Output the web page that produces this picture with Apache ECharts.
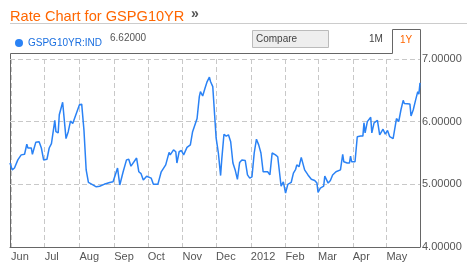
<!DOCTYPE html>
<html>
<head>
<meta charset="utf-8">
<script src="https://cdn.jsdelivr.net/npm/echarts@6/dist/echarts.min.js"></script>
<style>
html,body{margin:0;padding:0;background:#fff;}
#chart{width:467px;height:266px;}
</style>
</head>
<body>
<div id="chart"></div>
<script>
// ---- data ----
var seriesName = 'GSPG10YR:IND';
var lastValue = '6.62000';
var dates = [
'2011-05-31','2011-06-02','2011-06-04','2011-06-07','2011-06-10','2011-06-13','2011-06-14','2011-06-15','2011-06-16','2011-06-19',
'2011-06-20','2011-06-23','2011-06-26','2011-06-28','2011-06-30','2011-07-03','2011-07-05','2011-07-07','2011-07-10','2011-07-11',
'2011-07-13','2011-07-14','2011-07-17','2011-07-20','2011-07-22','2011-07-24','2011-07-26','2011-07-28','2011-08-01','2011-08-03',
'2011-08-05','2011-08-07','2011-08-09','2011-08-13','2011-08-16','2011-08-19','2011-08-23','2011-08-28','2011-08-31','2011-09-04',
'2011-09-06','2011-09-09','2011-09-12','2011-09-14','2011-09-16','2011-09-21','2011-09-23','2011-09-25','2011-09-27','2011-09-30',
'2011-10-04','2011-10-06','2011-10-10','2011-10-13','2011-10-17','2011-10-20','2011-10-21','2011-10-24','2011-10-26','2011-10-27',
'2011-10-29','2011-10-31','2011-11-02','2011-11-05','2011-11-08','2011-11-10','2011-11-11','2011-11-14','2011-11-16','2011-11-17',
'2011-11-19','2011-11-21','2011-11-23','2011-11-25','2011-11-26','2011-11-28','2011-12-01','2011-12-02','2011-12-03','2011-12-05',
'2011-12-06','2011-12-08','2011-12-10','2011-12-12','2011-12-14','2011-12-16','2011-12-18','2011-12-20','2011-12-22','2011-12-24',
'2011-12-27','2011-12-29','2011-12-31','2012-01-02','2012-01-04','2012-01-06','2012-01-08','2012-01-10','2012-01-12','2012-01-13',
'2012-01-16','2012-01-18','2012-01-20','2012-01-23','2012-01-25','2012-01-28','2012-01-30','2012-02-01','2012-02-03','2012-02-06',
'2012-02-08','2012-02-10','2012-02-11','2012-02-13','2012-02-15','2012-02-18','2012-02-21','2012-02-24','2012-02-27','2012-02-28',
'2012-02-29','2012-03-01','2012-03-03','2012-03-06','2012-03-07','2012-03-10','2012-03-12','2012-03-14','2012-03-17','2012-03-21',
'2012-03-23','2012-03-24','2012-03-27','2012-03-29','2012-03-30','2012-03-31','2012-04-03','2012-04-05','2012-04-08','2012-04-10',
'2012-04-11','2012-04-12','2012-04-14','2012-04-15','2012-04-17','2012-04-18','2012-04-20','2012-04-23','2012-04-25','2012-04-28',
'2012-04-30','2012-05-02','2012-05-04','2012-05-07','2012-05-08','2012-05-10','2012-05-12','2012-05-14','2012-05-16','2012-05-17',
'2012-05-22','2012-05-23','2012-05-25','2012-05-27','2012-05-29','2012-05-30','2012-05-31'
];
var values = [
5.34,5.23,5.26,5.39,5.47,5.48,5.47,5.64,5.58,5.58,
5.48,5.67,5.68,5.58,5.39,5.40,5.58,5.65,6.02,5.84,
5.82,6.11,6.31,5.73,5.84,6.01,5.97,6.07,6.27,6.28,
5.87,5.23,5.03,4.99,4.96,4.97,5.00,5.03,5.04,5.26,
4.99,5.20,5.39,5.40,5.29,5.42,5.20,5.17,5.07,5.13,
5.10,5.00,5.00,5.20,5.31,5.51,5.47,5.55,5.52,5.34,
5.52,5.54,5.47,5.59,5.63,5.84,5.86,6.05,6.40,6.48,
6.41,6.53,6.64,6.71,6.64,6.56,5.74,5.62,5.50,5.14,
5.39,5.80,5.77,5.79,5.68,5.34,5.23,5.08,5.35,5.39,
5.38,5.15,5.10,5.12,5.50,5.72,5.63,5.50,5.20,5.23,
5.20,5.15,5.50,5.47,5.44,4.97,5.04,4.86,5.00,5.03,
5.18,5.24,5.31,5.28,5.43,5.23,5.15,5.08,5.06,5.03,
5.02,4.87,4.94,4.97,5.13,5.02,5.06,5.15,5.20,5.23,
5.48,5.36,5.34,5.34,5.45,5.36,5.36,5.76,5.77,5.77,
5.98,5.82,6.00,6.00,6.07,5.82,5.98,6.02,5.79,5.88,
5.80,5.86,5.76,5.73,5.76,6.05,6.00,6.19,6.34,6.29,
6.28,6.09,6.19,6.34,6.48,6.44,6.62
];
var axisStart = '2011-05-31';
var axisEnd = '2012-05-31';
var monthNames = ['Jan','Feb','Mar','Apr','May','Jun','Jul','Aug','Sep','Oct','Nov','Dec'];
var yTicks = [4, 5, 6, 7];

// ---- build daily category axis ----
function fmt(d){
  var m = d.getUTCMonth()+1, dd = d.getUTCDate();
  return d.getUTCFullYear()+'-'+(m<10?'0':'')+m+'-'+(dd<10?'0':'')+dd;
}
var allDays = [];
var cur = new Date(axisStart+'T00:00:00Z'), end = new Date(axisEnd+'T00:00:00Z');
while (cur <= end) { allDays.push(fmt(cur)); cur = new Date(cur.getTime()+86400000); }
var lookup = {};
dates.forEach(function(d,i){ lookup[d] = values[i]; });
var lineData = allDays.map(function(d){ return lookup.hasOwnProperty(d) ? lookup[d] : null; });
function isMonthStart(idx, val){ return val.slice(8,10) === '01'; }

var FONT = '"Liberation Sans", Arial, sans-serif';
var chart = echarts.init(document.getElementById('chart'));
chart.setOption({
  animation: false,
  backgroundColor: '#fff',
  title: {
    text: 'Rate Chart for GSPG10YR',
    left: 5, top: 4,
    textStyle: {color: '#ff6600', fontSize: 14.6, fontWeight: 'normal', fontFamily: FONT}
  },
  legend: {
    left: 10, top: 33,
    icon: 'circle', itemWidth: 8, itemHeight: 8, itemGap: 4,
    selectedMode: false,
    textStyle: {color: '#1a6fe0', fontSize: 10, fontFamily: FONT},
    data: [seriesName]
  },
  grid: {left: 10, right: 47, top: 59, bottom: 19, containLabel: false},
  xAxis: {
    type: 'category',
    data: allDays,
    boundaryGap: false,
    axisLine: {show: true, lineStyle: {color: '#666', width: 1}},
    axisTick: {show: false},
    axisLabel: {
      interval: isMonthStart,
      align: 'left',
      margin: 4,
      color: '#555', fontSize: 11, fontFamily: FONT,
      formatter: function(v){
        var m = parseInt(v.slice(5,7),10);
        return m === 1 ? v.slice(0,4) : monthNames[m-1];
      }
    },
    splitLine: {show: true, interval: isMonthStart, lineStyle: {color: '#c8c8c8', type: [5,3], width: 1}}
  },
  yAxis: {
    type: 'value',
    position: 'right',
    min: yTicks[0], max: yTicks[yTicks.length-1], interval: 1,
    axisLine: {show: true, lineStyle: {color: '#666', width: 1}},
    axisTick: {show: false},
    axisLabel: {margin: 2, color: '#555', fontSize: 11, fontFamily: FONT,
      formatter: function(v){ return v.toFixed(5); }},
    splitLine: {show: true, lineStyle: {color: '#c8c8c8', type: [5,3], width: 1}}
  },
  series: [{
    name: seriesName,
    type: 'line',
    data: lineData,
    connectNulls: true,
    showSymbol: false,
    symbol: 'circle',
    itemStyle: {color: '#2a82f5'},
    lineStyle: {color: '#2a82f5', width: 1.5}
  }],
  graphic: [
    {type: 'line', shape: {x1: 10, y1: 23.5, x2: 467, y2: 23.5}, style: {stroke: '#cccccc', lineWidth: 1}, silent: true},
    {type: 'text', left: 191, top: 7, style: {text: '»', fill: '#555', font: 'bold 14px ' + FONT}, silent: true},
    {type: 'text', left: 110, top: 33, style: {text: lastValue, fill: '#555', font: '10px ' + FONT}, silent: true},
    {type: 'rect', shape: {x: 252.5, y: 30.5, width: 76, height: 17}, style: {fill: '#eeeeee', stroke: '#bbbbbb', lineWidth: 1}, silent: true},
    {type: 'text', left: 256, top: 34, style: {text: 'Compare', fill: '#444', font: '10px ' + FONT}, silent: true},
    {type: 'text', left: 369, top: 34, style: {text: '1M', fill: '#444', font: '10px ' + FONT}, silent: true},
    {type: 'text', left: 400, top: 35, style: {text: '1Y', fill: '#ff6600', font: '10px ' + FONT}, silent: true},
    {type: 'polyline', shape: {points: [[10.5,247],[10.5,53.5],[392.5,53.5],[392.5,29.5],[420.5,29.5],[420.5,247]]},
      style: {stroke: '#666', lineWidth: 1, fill: null}, silent: true}
  ]
});
</script>
</body>
</html>
